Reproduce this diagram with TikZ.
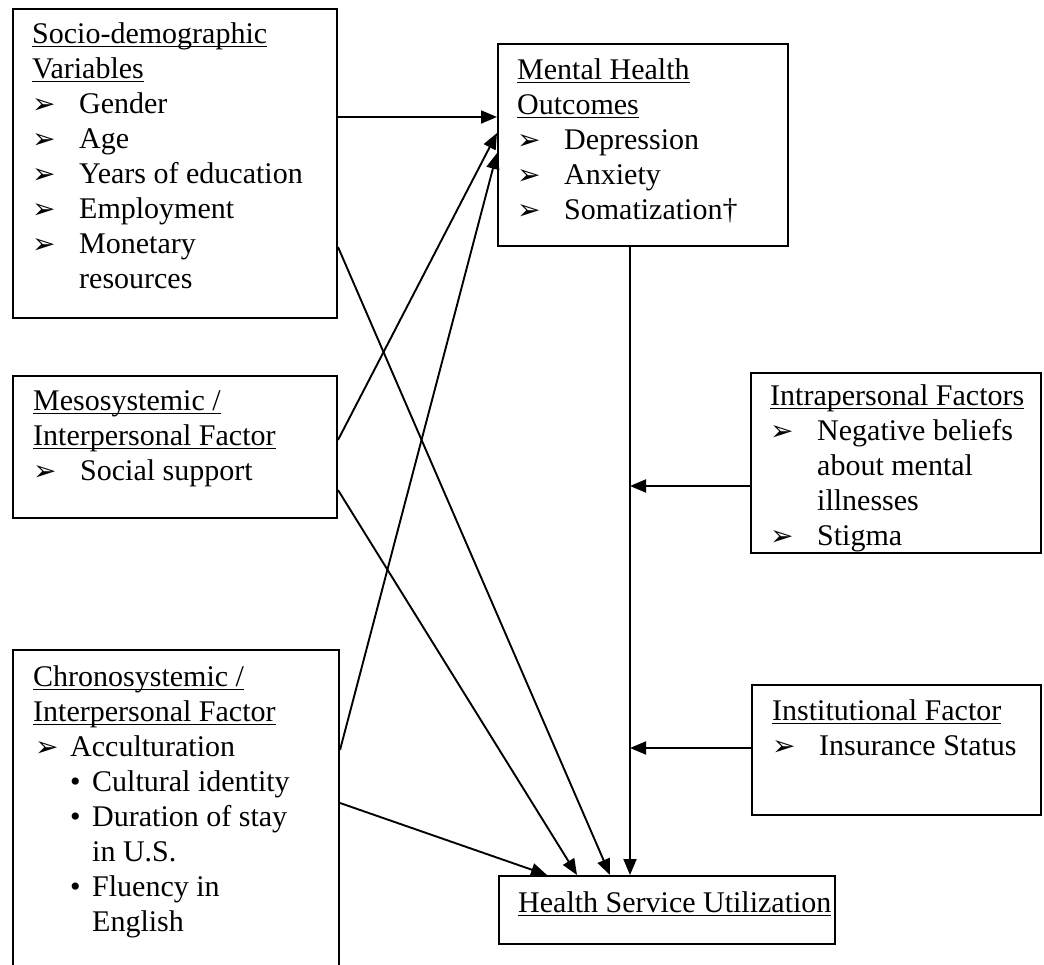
\documentclass[tikz,border=0pt]{standalone}
\usepackage{fontspec}
\setmainfont{Liberation Serif}
\newfontfamily\dingfont{DejaVu Sans}
\usetikzlibrary{arrows.meta}
% underlined heading line (word style underline)
\newcommand{\ulhead}[1]{\setbox0\hbox{\strut #1}\rlap{\rule[-3.5pt]{\wd0}{1.5pt}}\box0}
\newcommand{\arrsym}{{\dingfont\fontsize{28}{28}\selectfont\char"27A2}}
\newcommand{\arrb}{\makebox[47pt][l]{\arrsym}}
\newcommand{\dotb}{\makebox[22pt][l]{•}}
\tikzstyle{box}=[draw, line width=2pt, rectangle, anchor=north west, inner sep=0pt]
\tikzstyle{txt}=[anchor=north west, inner sep=0pt, align=left, font=\fontsize{30}{35}\selectfont]
\tikzstyle{arr}=[draw, line width=1.9pt, -{Triangle[length=16pt,width=13pt]}]
\begin{document}
\begin{tikzpicture}[x=1pt, y=-1pt]
    \useasboundingbox (0,0) rectangle (1044,965);
    \clip (0,0) rectangle (1044,965);
    % First we draw the boxes
    \foreach \pos/\name/\w/\h in {{(12,8)/socio/324/309}, {(497,43)/mho/290/202}, {(12,375)/meso/324/142},
        {(750,372)/intra/290/180}, {(12,649)/chrono/326/340}, {(751,684)/inst/289/130}, {(498,875)/hsu/336/68}}
        \node[box, minimum width=\w pt, minimum height=\h pt] (\name) at \pos {};

    % Then the texts inside them
    \node[txt] (socio-t) at ([xshift=20pt,yshift=-11pt]socio.north west)
        {\ulhead{Socio-demographic}\\ \ulhead{Variables}\\ \arrb Gender\\ \arrb Age\\
         \arrb Years of education\\ \arrb Employment\\ \arrb Monetary\\ \hspace*{47pt}resources};
    \node[txt] (mho-t) at ([xshift=20pt,yshift=-12pt]mho.north west)
        {\ulhead{Mental Health}\\ \ulhead{Outcomes}\\ \arrb Depression\\ \arrb Anxiety\\ \arrb Somatization†};
    \node[txt] (meso-t) at ([xshift=21pt,yshift=-11pt]meso.north west)
        {\ulhead{Mesosystemic /}\\ \ulhead{Interpersonal Factor}\\ \arrb Social support};
    \node[txt] (intra-t) at ([xshift=20pt,yshift=-9pt]intra.north west)
        {\ulhead{Intrapersonal Factors}\\ \arrb Negative beliefs\\ \hspace*{47pt}about mental\\
         \hspace*{47pt}illnesses\\ \arrb Stigma};
    \node[txt] (chrono-t) at ([xshift=21pt,yshift=-13pt]chrono.north west)
        {\ulhead{Chronosystemic /}\\ \ulhead{Interpersonal Factor}\\
         \makebox[37pt][l]{\hspace{2pt}\arrsym}Acculturation\\
         \hspace*{37pt}\dotb Cultural identity\\ \hspace*{37pt}\dotb Duration of stay\\
         \hspace*{59pt}in U.S.\\ \hspace*{37pt}\dotb Fluency in\\ \hspace*{59pt}English};
    \node[txt] (inst-t) at ([xshift=21pt,yshift=-12pt]inst.north west)
        {\ulhead{Institutional Factor}\\ \arrb Insurance Status};
    \node[txt] (hsu-t) at ([xshift=20pt,yshift=-13pt]hsu.north west)
        {\ulhead{Health Service Utilization}};

    % Ports on the box edges
    \coordinate (socio-a) at ([yshift=-109pt]socio.north east);
    \coordinate (socio-b) at ([yshift=-239pt]socio.north east);
    \coordinate (meso-a) at ([yshift=-65pt]meso.north east);
    \coordinate (meso-b) at ([yshift=-115pt]meso.north east);
    \coordinate (chrono-a) at ([yshift=-101pt]chrono.north east);
    \coordinate (chrono-b) at ([yshift=-154pt]chrono.north east);
    \coordinate (mho-a) at ([yshift=-74pt]mho.north west);
    \coordinate (mho-b) at ([yshift=-90pt]mho.north west);
    \coordinate (mho-c) at ([yshift=-110pt]mho.north west);
    \coordinate (mho-o) at ([xshift=133pt]mho.south west);
    \coordinate (hsu-a) at ([xshift=49pt]hsu.north west);
    \coordinate (hsu-b) at ([xshift=79pt]hsu.north west);
    \coordinate (hsu-c) at ([xshift=112pt]hsu.north west);
    \coordinate (hsu-d) at ([xshift=132pt]hsu.north west);
    \coordinate (intra-o) at ([yshift=-114pt]intra.north west);
    \coordinate (inst-o) at ([yshift=-64pt]inst.north west);

    % Connect boxes with arrows
    \foreach \source/\dest in {socio-a/mho-a, meso-a/mho-b, chrono-a/mho-c, socio-b/hsu-c,
        meso-b/hsu-b, chrono-b/hsu-a, mho-o/hsu-d}
        \path[arr] (\source) -- (\dest);
    \path[arr] (intra-o) -- (intra-o -| mho-o);
    \path[arr] (inst-o) -- (inst-o -| mho-o);
\end{tikzpicture}
\end{document}
